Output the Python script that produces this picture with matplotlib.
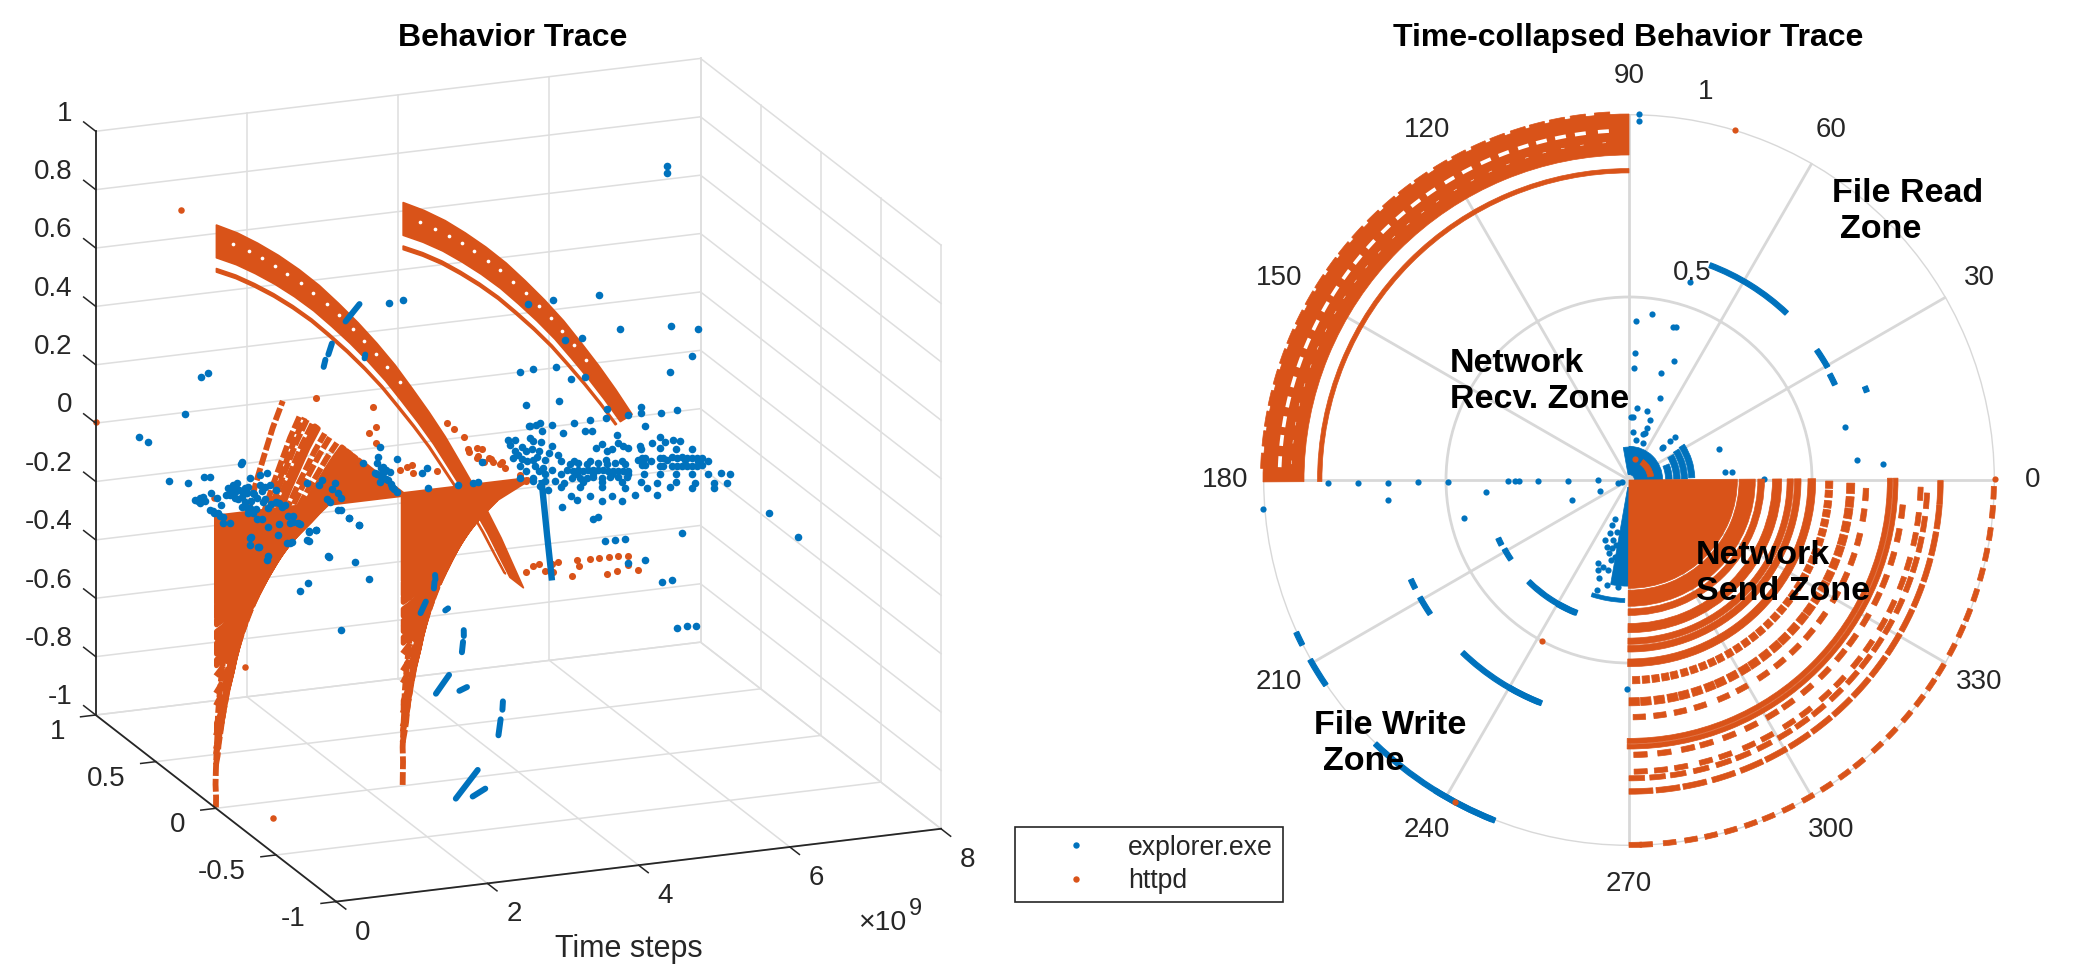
import numpy as np
import matplotlib
matplotlib.use('Agg')
import matplotlib.pyplot as plt
from matplotlib.lines import Line2D
from mpl_toolkits.mplot3d import proj3d
from mpl_toolkits.mplot3d.art3d import Poly3DCollection

plt.rcParams['font.family'] = ['Liberation Sans', 'DejaVu Sans']

W, H = 2073, 968
BLUE = '#0072BD'
ORANGE = '#D95319'
GRID = '#dedede'
POLAR_GRID = '#d8d8d8'
DARK = '#262626'

# time (x 1e9) against angle for the two passes of the process
wedge_theta = [270, 275, 280, 285, 290, 295, 300, 305, 310, 315, 320, 325, 330, 335, 340, 345, 350, 355, 360]
wedge_time = [0, 0.14, 0.27, 0.41, 0.55, 0.69, 0.82, 0.96, 1.10, 1.24, 1.37, 1.51, 1.65, 1.78, 1.92, 2.06, 2.20, 2.33, 2.47]
wedge2_theta = [270, 275, 280, 285, 290, 295, 300, 305, 310, 315, 320, 325, 330]
wedge2_time = [2.47, 2.61, 2.75, 2.88, 3.02, 3.16, 3.29, 3.43, 3.57, 3.70, 3.84, 3.98, 4.12]
arc_theta = [90, 95, 100, 105, 110, 115, 120, 125, 130, 135, 140, 145, 150, 155, 160, 165, 170, 175, 180]
arc_time = [0, 0.14, 0.27, 0.41, 0.55, 0.69, 0.82, 0.96, 1.10, 1.24, 1.37, 1.51, 1.65, 1.78, 1.92, 2.06, 2.20, 2.33, 2.47]
arc2_theta = [90, 95, 100, 105, 110, 115, 120, 125, 130, 135, 140, 145, 150]
arc2_time = [2.47, 2.61, 2.75, 2.88, 3.02, 3.16, 3.29, 3.43, 3.57, 3.70, 3.84, 3.98, 4.12]

# httpd: solid radial bands of the send zone, and dashed rings
send_in = [0.0, 0.301, 0.352, 0.392, 0.432, 0.452, 0.489, 0.706, 0.722]
send_out = [0.296, 0.345, 0.370, 0.417, 0.449, 0.470, 0.510, 0.720, 0.735]
ring_r = [0.547, 0.606, 0.648, 0.751, 0.797, 0.815, 0.851, 0.997]
ring_starts = [
    [1, 3.8, 6.6, 9.4, 12, 15, 17.8, 20.6, 23.4, 26, 29, 31.8, 34.6, 37.4, 40, 43, 45.8, 48.6, 51.4, 54, 57, 59.8, 62.6, 65.4, 68, 71, 73.8, 76.6, 79.4, 82, 85, 87.6],
    [0, 3, 6.5, 10, 13, 16.5, 20, 23, 26.5, 30, 33, 36.5, 40, 43, 46.5, 50, 53, 56.5, 60, 63, 66.5, 70, 73, 76.5, 80, 83, 86.5],
    [1, 6, 11, 16, 22, 27, 33, 38, 43, 48, 53, 59, 64, 69, 74, 80, 85],
    [1, 6, 11, 15, 20, 25, 30, 34, 39, 44, 49, 53, 58, 63, 67, 72, 77, 82],
    [1, 5, 9, 14, 18, 23, 27, 32, 36, 41, 45, 50, 54, 59, 63, 68, 72, 77, 81, 86],
    [0, 4, 8, 12.5, 17, 21, 25.5, 30, 34, 38, 42.5, 47, 51, 55, 59, 63.5, 68, 72, 76, 80, 84.5],
    [0, 5, 10, 15.5, 21, 26, 31, 36, 41, 46, 51, 56, 61, 66, 71, 76, 81, 85.5],
    [0, 1.7, 5.4, 8.8, 12, 15.2, 18.5, 21.5, 24.9, 28.4, 31.8, 35.2, 38.1, 41.9, 45.1, 48.6, 51.8, 54.9, 57.7, 61.3, 64.5, 67.3, 70.6, 74, 77.2, 80.5, 84, 87],
]
ring_span = [2.1, 2.7, 3.0, 2.8, 2.6, 3.0, 4.4, 2.0]
ring_thick = [0.02, 0.022, 0.015, 0.015, 0.014, 0.014, 0.015, 0.014]

# httpd: recv zone arcs
recv_in = [0.888, 0.839]
recv_out = [1.0, 0.851]
hatch_theta = [94.2, 98, 101.3, 104.5, 107.6, 111, 114.2, 117.6, 120.9, 124.5, 127.6, 130.8, 134.1, 137.6, 140.9, 144, 147.3, 150.3, 153.7, 157, 160.3, 163.7, 167.1, 170.4, 173.5, 177]
hatch_time = [0.115, 0.22, 0.31, 0.40, 0.48, 0.58, 0.66, 0.76, 0.85, 0.95, 1.03, 1.12, 1.21, 1.31, 1.40, 1.48, 1.57, 1.65, 1.75, 1.84, 1.93, 2.02, 2.12, 2.21, 2.29, 2.39]

# httpd: stray events
stray_time = [0, 0, 0, 0, 0]
stray_r = [1.0, 1.0, 0.5, 1.0, 0.06]
stray_theta = [73.2, 241.7, 241.5, 0.2, 74]
extra_time = [1.33, 2.08, 2.12, 2.02, 2.12, 3.05, 3.15, 3.28, 3.34, 3.47, 3.64, 3.76, 3.55, 4.02, 4.10,
              3.35, 3.45, 3.52, 3.45, 3.61, 3.66, 3.78, 3.82, 2.43, 2.59, 2.53, 2.61, 2.92,
              4.10, 4.19, 4.27, 4.35, 4.44, 4.52, 4.46, 4.71, 4.78, 4.80, 4.95, 5.07, 5.20, 5.32, 5.45, 5.17, 5.31, 5.45, 5.58]
extra_z = [0.363, 0.309, 0.24, 0.224, 0.184, 0.224, 0.202, 0.169, 0.127, 0.10, 0.084, 0.063, 0.075, 0.015, -0.005,
           0.118, 0.128, 0.12, 0.094, 0.089, 0.071, 0.07, 0.048, 0.085, 0.094, 0.089, 0.066, 0.063,
           -0.319, -0.299, -0.296, -0.321, -0.301, -0.298, -0.33, -0.352, -0.30, -0.321, -0.30, -0.30, -0.302, -0.303, -0.306, -0.358, -0.351, -0.335, -0.359]

# explorer.exe: arcs (radius, angles, times)
blue_arc_r = [0.627, 0.624, 0.62, 0.693, 0.391, 0.389, 0.39, 0.655, 0.655, 0.655, 1.0, 1.0, 1.0, 1.0, 0.655, 0.391]
blue_arc_from = [46.6, 29.6, 24.8, 20.3, 204, 209, 225.3, 204.5, 209.3, 226, 204.6, 209.4, 226.1, 238, 240, 240]
blue_arc_to = [69.4, 34.7, 27.8, 21.6, 207, 214, 248.6, 206.9, 214, 248.6, 206.8, 214.1, 248.5, 248, 248, 248]
blue_arc_t0 = [2.4, 2.35, 2.32, 3.0, 2.33, 2.35, 2.34, 2.33, 2.36, 2.36, 2.35, 2.38, 2.36, 2.72, 2.8, 2.76]
blue_arc_t1 = [2.25, 2.35, 2.32, 3.0, 2.35, 2.37, 2.48, 2.35, 2.39, 2.53, 2.37, 2.42, 2.59, 2.8, 2.83, 2.8]

# explorer.exe: time-collapsed dots
blue_theta = [88.4, 88.4, 13.7, 5, 3.6, 18.8, 5, 4.6, 0.4, 73, 82, 87.5, 73.9, 73, 87.3, 69.3, 87.4, 73.6, 69.3, 75.7, 84, 88, 86, 70.7, 71, 85.6, 72.7, 71.5, 80, 70, 43, 43.5, 44, 44,
              180.6, 180.7, 180.6, 180.6, 180.7, 180.5, 180.5, 180.5, 180.5, 180.5, 180.5, 197, 193, 184.8, 184.5, 184.7, 200, 199, 193, 269.4,
              249.8, 253.5, 251.2, 257.1, 253.2, 261.6, 258, 264.3, 253.6, 251.5, 248, 250.4, 249, 250, 255, 255.4, 255.8, 259.7, 257.1, 256.6, 258.7]
blue_r = [1.0, 0.98, 0.607, 0.624, 0.694, 0.26, 0.263, 0.281, 0.369, 0.566, 0.457, 0.436, 0.436, 0.436, 0.348, 0.348, 0.305, 0.306, 0.24, 0.195, 0.197, 0.173, 0.173, 0.174, 0.149, 0.132, 0.132, 0.135, 0.111, 0.109, 0.173, 0.153, 0.131, 0.124,
          0.823, 0.741, 0.658, 0.576, 0.494, 0.33, 0.311, 0.30, 0.248, 0.166, 0.084, 0.03, 0.02, 0.66, 1.004, 0.392, 0.084, 0.166, 0.462, 0.571,
          0.243, 0.247, 0.26, 0.252, 0.28, 0.262, 0.293, 0.293, 0.313, 0.192, 0.177, 0.155, 0.132, 0.112, 0.207, 0.169, 0.193, 0.213, 0.224, 0.145, 0.181]
# explorer.exe: dense patches near the origin
patch_from = [0, 1, 1, 1, 2, 85, 260, 252]
patch_to = [90, 22, 30, 32, 33, 100, 270, 268]
patch_in = [0.015, 0.1, 0.122, 0.143, 0.163, 0.015, 0.02, 0.324]
patch_out = [0.092, 0.118, 0.14, 0.16, 0.18, 0.09, 0.29, 0.335]
# httpd: small arc near the origin
small_arc_r = 0.06
small_arc_from = 9
small_arc_to = 55

# explorer.exe in the 3-D view, by time and height, on the plane y = 1
back_time = [1.49, 1.39, 1.18, 0.57, 0.69, 0.97, 1.22, 1.43, 1.51, 1.93,
             1.31, 1.38, 1.42, 1.38, 1.53, 1.6, 1.66, 1.51, 1.57, 1.64, 1.68,
             1.75, 1.81, 1.87, 1.77, 1.84, 1.9, 1.84, 1.93, 2.01, 2.0, 1.97, 2.04, 2.08, 1.93, 2.01, 2.08, 2.14, 2.17, 2.24, 2.3, 2.21, 2.28, 2.04, 2.17, 2.26, 2.39, 2.46, 2.5, 2.39,
             2.8, 2.99, 2.96, 3.16, 3.13, 3.2, 3.25, 3.06, 3.1,
             1.68, 1.77, 2.14, 2.2, 2.28, 2.41, 2.43, 2.57, 2.61, 2.67, 2.54, 2.04, 2.04, 2.16, 2.53, 2.59, 2.28, 2.82, 2.92, 2.8, 3.07, 3.21, 3.35, 3.48,
             3.76, 3.73, 3.72, 3.8, 3.69, 3.8, 3.89, 3.86, 3.92, 3.98, 3.76, 3.99, 3.53,
             4.38, 4.31, 4.39, 4.79, 4.99, 5.05, 5.61, 5.11, 5.45, 5.54,
             1.8, 1.85, 1.95, 1.88, 1.78, 1.97, 2.05, 1.99, 2.12, 2.1, 2.2, 2.24, 2.32, 2.42, 1.44, 1.35, 1.55, 1.62, 1.72,
             3.78, 3.84, 3.9, 3.95, 3.72, 3.78, 3.84]
back_z = [0.125, 0.114, -0.006, -0.066, -0.087, -0.229, -0.244, -0.23, -0.231, -0.194,
          -0.305, -0.30, -0.298, -0.317, -0.288, -0.307, -0.333, -0.345, -0.358, -0.37, -0.374,
          -0.277, -0.269, -0.264, -0.302, -0.294, -0.289, -0.314, -0.314, -0.282, -0.302, -0.332, -0.355, -0.373, -0.348, -0.371, -0.305, -0.324, -0.28, -0.289, -0.284, -0.34, -0.362, -0.252, -0.246, -0.242, -0.345, -0.364, -0.359, -0.304,
          -0.293, -0.289, -0.305, -0.304, -0.324, -0.34, -0.359, -0.356, -0.367,
          -0.395, -0.397, -0.396, -0.396, -0.427, -0.459, -0.422, -0.423, -0.40, -0.426, -0.398, -0.458, -0.482, -0.492, -0.49, -0.488, -0.527, -0.458, -0.458, -0.488, -0.551, -0.398, -0.43, -0.458,
          -0.20, -0.233, -0.253, -0.27, -0.287, -0.29, -0.29, -0.316, -0.342, -0.361, -0.32, -0.248, -0.248,
          -0.291, -0.306, -0.36, -0.362, -0.361, -0.36, -0.364, -0.293, -0.228, -0.232,
          -0.29, -0.28, -0.30, -0.32, -0.29, -0.285, -0.33, -0.35, -0.36, -0.31, -0.30, -0.33, -0.35, -0.35, -0.31, -0.31, -0.35, -0.36, -0.30,
          -0.27, -0.31, -0.33, -0.35, -0.29, -0.30, -0.28]
# ... and on the plane y = 0
mid_time = [5.97, 5.97, 5.07, 4.46, 4.13, 5.34, 6.02, 6.38, 6.3, 4.62, 4.84, 4.02, 4.19, 4.5, 4.69, 4.88, 6.0, 4.54, 4.1, 5.17, 5.62, 5.62, 5.89, 6.1, 5.45, 5.68, 4.95, 5.16, 4.73, 0.33,
            0.47, 0.56, 0.68, 1.02, 1.11, 1.23, 1.32, 1.23, 0.98, 1.49, 1.84, 2.03, 1.22, 1.11, 1.65, 1.76, 1.89, 1.65, 2.29, 2.47,
            5.03, 5.24, 5.45, 5.62, 5.87, 6.08, 6.3,
            4.57, 4.73, 4.95, 5.16, 5.37, 5.58, 5.75, 5.96, 6.21, 6.38, 6.51,
            4.57, 4.78, 4.99, 5.24, 5.45, 5.66, 5.87, 6.08, 6.3, 6.51, 6.68, 6.8,
            4.61, 4.86, 5.11, 5.37, 5.62, 5.83, 6.08, 6.34, 6.59, 6.76,
            4.57, 4.82, 5.11, 5.41, 5.7, 6.0, 6.3, 6.59,
            4.69, 4.95, 5.24, 5.54, 5.83, 4.78, 5.11, 5.37,
            3.89, 3.93, 4.02, 4.1, 4.1, 4.19, 4.19, 4.19, 4.27, 4.27, 4.31, 4.35, 4.35, 4.44, 4.44, 4.14, 4.23, 4.52, 4.48, 4.39,
            3.95, 4.0, 4.05, 4.12, 4.18, 4.22, 4.3, 4.33, 4.4, 4.05, 4.15, 4.25, 4.35, 4.2, 4.28, 4.15, 4.29, 4.44,
            4.64, 4.72, 4.79, 4.85, 4.92, 4.99, 5.05, 5.12, 5.19, 5.25, 5.32, 5.38, 5.45,
            4.71, 4.81, 4.91, 4.99, 5.11, 5.21, 5.32, 5.44,
            4.68, 4.79, 4.91, 5.05, 5.17, 5.28, 5.41,
            5.63, 5.67, 5.87, 5.91, 6.03, 6.1, 6.16, 6.23, 6.3, 6.36, 6.43,
            5.63, 5.67, 5.87, 5.91, 6.03, 6.1, 6.16, 6.23, 6.3, 6.36, 6.43,
            4.59, 4.88, 4.97, 5.3, 5.32, 5.38, 5.61, 5.77, 5.87, 5.94, 6.04, 6.14, 5.11, 5.17,
            4.58, 4.99, 5.05, 7.32, 7.7, 6.17, 5.14, 5.28, 5.41, 5.45, 5.68, 5.9, 6.03, 6.1, 6.23, 6.35]
mid_z = [1.015, 0.989, 0.602, 0.604, 0.60, 0.477, 0.463, 0.444, 0.354, 0.462, 0.462, 0.371, 0.373, 0.373, 0.326, 0.324, 0.309, 0.255, 0.255, 0.208, 0.201, 0.18, 0.172, 0.176, 0.176, 0.134, 0.177, 0.175, 0.174, 0.171,
         -0.086, -0.123, -0.172, -0.051, -0.06, -0.092, -0.089, -0.121, -0.122, -0.184, -0.214, -0.277, -0.266, -0.291, -0.442, -0.06, -0.09, -0.029, 0.66, 0.666,
         0.076, 0.069, 0.063, 0.057, 0.05, 0.043, 0.036,
         0.049, 0.044, 0.037, 0.031, 0.024, 0.018, 0.012, 0.006, -0.002, -0.008, -0.012,
         0.004, -0.002, -0.009, -0.017, -0.023, -0.03, -0.036, -0.043, -0.05, -0.056, -0.061, -0.065,
         -0.028, -0.035, -0.043, -0.051, -0.059, -0.066, -0.073, -0.082, -0.09, -0.095,
         -0.043, -0.051, -0.06, -0.07, -0.079, -0.088, -0.098, -0.107,
         -0.075, -0.083, -0.092, -0.101, -0.11, -0.094, -0.105, -0.113,
         0.122, 0.076, 0.049, 0.098, 0.029, 0.129, 0.061, -0.008, 0.092, 0.024, 0.16, 0.056, -0.013, 0.104, 0.019, 0.182, 0.18, 0.068, -0.017, -0.048,
         0.10, 0.085, 0.07, 0.06, 0.10, 0.04, 0.12, 0.03, 0.08, 0.11, 0.14, 0.07, 0.01, 0.0, -0.03, 0.182, 0.185, 0.176,
         0.013, 0.01, 0.008, 0.006, 0.004, 0.002, 0.0, -0.002, -0.005, -0.007, -0.009, -0.011, -0.013,
         -0.014, -0.017, -0.02, -0.022, -0.026, -0.029, -0.032, -0.036,
         0.035, 0.032, 0.028, 0.024, 0.02, 0.017, 0.012,
         0.026, 0.025, 0.018, 0.017, 0.014, 0.011, 0.01, 0.007, 0.005, 0.003, 0.001,
         -0.001, -0.002, -0.009, -0.01, -0.014, -0.016, -0.018, -0.02, -0.022, -0.024, -0.026,
         0.141, 0.139, 0.139, 0.115, 0.087, 0.075, 0.068, 0.073, 0.09, 0.071, 0.072, 0.068, 0.09, 0.064,
         -0.112, -0.163, -0.161, -0.218, -0.309, -0.248, -0.243, -0.244, -0.245, -0.328, -0.325, -0.407, -0.407, -0.571, -0.571, -0.572]
# the long vertical run of explorer.exe events
run_time = [4.31, 4.38, 4.44]
run_z = [-0.02, -0.2, -0.347]

time_ticks = [0, 2, 4, 6, 8]
y_ticks = [1, 0.5, 0, -0.5, -1]
y_labels = ['1', '0.5', '0', '-0.5', '-1']
z_ticks = [1, 0.8, 0.6, 0.4, 0.2, 0, -0.2, -0.4, -0.6, -0.8, -1]
z_labels = ['1', '0.8', '0.6', '0.4', '0.2', '0', '-0.2', '-0.4', '-0.6', '-0.8', '-1']
angle_ticks = [0, 30, 60, 90, 120, 150, 180, 210, 240, 270, 300, 330]


def helix(theta, time, r):
    t = np.deg2rad(theta)
    return np.array(time), r * np.cos(t), r * np.sin(t)


def screen(ax, x, y, z):
    a, b, _ = proj3d.proj_transform(x, y, z, ax.get_proj())
    return ax.transData.transform((a, b))


def fit_box(ax):
    # place the ortho box so its corners land where the reference has them
    size, left, bot = 800.0, 100.0, 100.0
    ax.set_position([left / W, bot / H, size / W, size / H])
    ax.apply_aspect()
    a = screen(ax, 0, 1, -1)
    c = screen(ax, 8, -1, -1)
    scale = (941 - 95.7) / (c[0] - a[0])
    new = size * scale
    rx = (a[0] - left) / size
    ry = (a[1] - bot) / size
    new_left = 95.7 - rx * new
    new_bot = (H - 715) - ry * new
    ax.set_position([new_left / W, new_bot / H, new / W, new / H])
    ax.apply_aspect()


fig = plt.figure(figsize=(W / 100, H / 100), dpi=100)

# ---- left: 3-D trace
ax = fig.add_subplot(projection='3d', proj_type='ortho', computed_zorder=False)
ax.set_xlim(0, 8, view_margin=0)
ax.set_ylim(-1, 1, view_margin=0)
ax.set_zlim(-1, 1, view_margin=0)
ax.set_box_aspect((650, 656, 613))
ax.view_init(elev=17.8, azim=-111.5)
ax.set_axis_off()
fit_box(ax)


def label3d(x, y, z, s, ha):
    p = screen(ax, x, y, z)
    fig.text(p[0] / W, p[1] / H, s, ha=ha, va='center', fontsize=20, color=DARK)


for v in time_ticks:
    ax.plot([v, v], [-1, 1], [-1, -1], color=GRID, lw=1.1, zorder=1)
    ax.plot([v, v], [1, 1], [-1, 1], color=GRID, lw=1.1, zorder=1)
for v in y_ticks:
    ax.plot([0, 8], [v, v], [-1, -1], color=GRID, lw=1.1, zorder=1)
    ax.plot([8, 8], [v, v], [-1, 1], color=GRID, lw=1.1, zorder=1)
for v in z_ticks:
    ax.plot([0, 8], [1, 1], [v, v], color=GRID, lw=1.1, zorder=1)
    ax.plot([8, 8], [-1, 1], [v, v], color=GRID, lw=1.1, zorder=1)

ax.plot([0, 0], [1, 1], [-1, 1], color=DARK, lw=1.3, zorder=6)
ax.plot([0, 0], [1, -1], [-1, -1], color=DARK, lw=1.3, zorder=6)
ax.plot([0, 8], [-1, -1], [-1, -1], color=DARK, lw=1.3, zorder=6)
for v, s in zip(z_ticks, z_labels):
    ax.plot([0, 0], [1, 1.1], [v, v], color=DARK, lw=1.1, zorder=6)
    label3d(0, 1.19, v, s, 'right')
for v, s in zip(y_ticks, y_labels):
    ax.plot([0, -0.2], [v, v], [-1, -1], color=DARK, lw=1.1, zorder=6)
    label3d(-0.4, v, -1.046, s, 'right')
for v in time_ticks:
    ax.plot([v, v], [-1, -1.08], [-1, -1], color=DARK, lw=1.1, zorder=6)
    label3d(v, -1.22, -1.036, str(v), 'center')


def band3d(theta, time, r_in, r_out, edge):
    xo, yo, zo = helix(theta, time, r_out)
    xi, yi, zi = helix(theta, time, r_in)
    verts = list(zip(xo, yo, zo)) + list(zip(xi[::-1], yi[::-1], zi[::-1]))
    ax.add_collection3d(Poly3DCollection([verts], facecolor=ORANGE, edgecolor=ORANGE, linewidth=edge, zorder=2))


for th, tm in [(wedge_theta, wedge_time), (wedge2_theta, wedge2_time)]:
    for a, b in zip(send_in, send_out):
        band3d(th, tm, a, b, 3.5)
    for r in ring_r:
        xs, ys, zs = helix(th, tm, r)
        ax.plot(xs, ys, zs, color=ORANGE, lw=4.2, ls=(0, (2.2, 0.5)), zorder=2)
for th, tm in [(arc_theta, arc_time), (arc2_theta, arc2_time)]:
    for a, b in zip(recv_in, recv_out):
        band3d(th, tm, a, b, 1.2)
xs, ys, zs = helix(hatch_theta[:14], hatch_time[:14], 0.954)
ax.scatter(xs, ys, zs, s=7, c='white', linewidths=0, depthshade=False, zorder=3)
ax.scatter(xs + 2.47, ys, zs, s=7, c='white', linewidths=0, depthshade=False, zorder=3)

xs, ys, zs = helix(stray_theta, stray_time, np.array(stray_r))
ax.scatter(xs, ys, zs, s=22, c=ORANGE, linewidths=0, depthshade=False, zorder=3)
ax.scatter(extra_time, np.zeros(len(extra_time)), extra_z, s=26, c=ORANGE, linewidths=0, depthshade=False, zorder=3)

ax.scatter(back_time, np.ones(len(back_time)), back_z, s=30, c=BLUE, linewidths=0, depthshade=False, zorder=4)
ax.scatter(mid_time, np.zeros(len(mid_time)), mid_z, s=30, c=BLUE, linewidths=0, depthshade=False, zorder=4)
ax.plot(run_time, [0, 0, 0], run_z, color=BLUE, lw=4.6, zorder=4)
for r, a, b, t0, t1 in zip(blue_arc_r, blue_arc_from, blue_arc_to, blue_arc_t0, blue_arc_t1):
    xs, ys, zs = helix([a, b], [t0, t1], r)
    ax.plot(xs, ys, zs, color=BLUE, lw=4.3, zorder=4, solid_capstyle='round')

# ---- right: polar view
pax = fig.add_axes([1263 / W, (H - 846) / H, 732 / W, 732 / H], projection='polar')
pax.set_rlim(0, 1)
pax.set_rticks([0.5, 1])
pax.set_yticklabels([])
pax.set_thetagrids(angle_ticks, labels=[''] * len(angle_ticks))
pax.grid(color=POLAR_GRID, lw=2.0)
pax.spines['polar'].set_visible(False)
pax.set_axisbelow(True)


def arc_bar(t0, t1, r0, r1, color=ORANGE, z=3, edge=0.5):
    pax.bar(np.deg2rad((t0 + t1) / 2), r1 - r0, width=np.deg2rad(t1 - t0), bottom=r0, color=color,
            edgecolor=color, linewidth=edge, clip_on=False, zorder=z)


for a, b, r0, r1 in zip(patch_from, patch_to, patch_in, patch_out):
    arc_bar(a, b, r0, r1, BLUE, 2)
pax.scatter(np.deg2rad(blue_theta), blue_r, s=20, c=BLUE, linewidths=0, clip_on=False, zorder=2)
for r, a, b in zip(blue_arc_r, blue_arc_from, blue_arc_to):
    arc_bar(a, b, r - 0.007, r + 0.007, BLUE, 2, 0.8)

for a, b in zip(send_in, send_out):
    arc_bar(269.6, 360.4, a, b)
for r, starts, span, thick in zip(ring_r, ring_starts, ring_span, ring_thick):
    for s in starts:
        arc_bar(270 + s, 270 + s + span, r - thick / 2, r + thick / 2)
for a, b in zip(recv_in, recv_out):
    arc_bar(90, 180.3, a, b)
for t in hatch_theta:
    arc_bar(t - 1.2, t + 1.2, 0.995, 1.007)
    arc_bar(t - 0.9, t + 0.9, 0.950, 0.960, 'white', 4, 0)
    arc_bar(t - 0.3, t + 0.3, 0.923, 0.9245, 'white', 4, 0)
arc_bar(small_arc_from, small_arc_to, small_arc_r - 0.008, small_arc_r + 0.008)
pax.scatter(np.deg2rad(stray_theta), stray_r, s=20, c=ORANGE, linewidths=0, clip_on=False, zorder=5)

for a in angle_ticks:
    pax.text(np.deg2rad(a), 1.104, str(a), ha='center', va='center', fontsize=20, color=DARK, clip_on=False)
pax.text(np.deg2rad(73), 0.59, '0.5', ha='center', va='center', fontsize=20, color=DARK)
pax.text(np.deg2rad(78.8), 1.08, '1', ha='center', va='center', fontsize=20, color=DARK, clip_on=False)

# ---- figure level text
fig.text(513 / W, 1 - 38 / H, 'Behavior Trace', ha='center', va='center', fontsize=23, fontweight='bold', color='black')
fig.text(1628 / W, 1 - 38 / H, 'Time-collapsed Behavior Trace', ha='center', va='center', fontsize=23, fontweight='bold', color='black')
fig.text(629 / W, 1 - 949 / H, 'Time steps', ha='center', va='center', fontsize=22, color=DARK)
fig.text(858 / W, 1 - 923 / H, '\u00d710', ha='left', va='center', fontsize=20.5, color=DARK)
fig.text(909 / W, 1 - 909 / H, '9', ha='left', va='center', fontsize=17, color=DARK)

for s, x, y in [('Network', 1450, 363), ('Recv. Zone', 1450, 400),
                ('File Read', 1832, 193), ('Zone', 1840, 229),
                ('Network', 1696, 555), ('Send Zone', 1696, 592),
                ('File Write', 1314, 725), ('Zone', 1323, 762)]:
    fig.text(x / W, 1 - y / H, s, ha='left', va='center', fontsize=24.5, fontweight='bold', color='black')

handles = [Line2D([], [], ls='none', marker='o', ms=4.6, mfc=BLUE, mec='none'),
           Line2D([], [], ls='none', marker='o', ms=4.6, mfc=ORANGE, mec='none')]
leg = fig.legend(handles, ['explorer.exe', 'httpd'], loc='lower left', mode='expand',
                 bbox_to_anchor=(1015 / W, 1 - 902 / H, 268 / W, 72 / H),
                 borderaxespad=0, fontsize=19.2, fancybox=False, framealpha=1, edgecolor=DARK,
                 handlelength=4.0, handletextpad=-0.05, borderpad=0.3, labelspacing=0.28)
leg.get_frame().set_linewidth(1.2)
for t in leg.get_texts():
    t.set_color(DARK)

fig.savefig('out.png', dpi=100)
plt.close(fig)
